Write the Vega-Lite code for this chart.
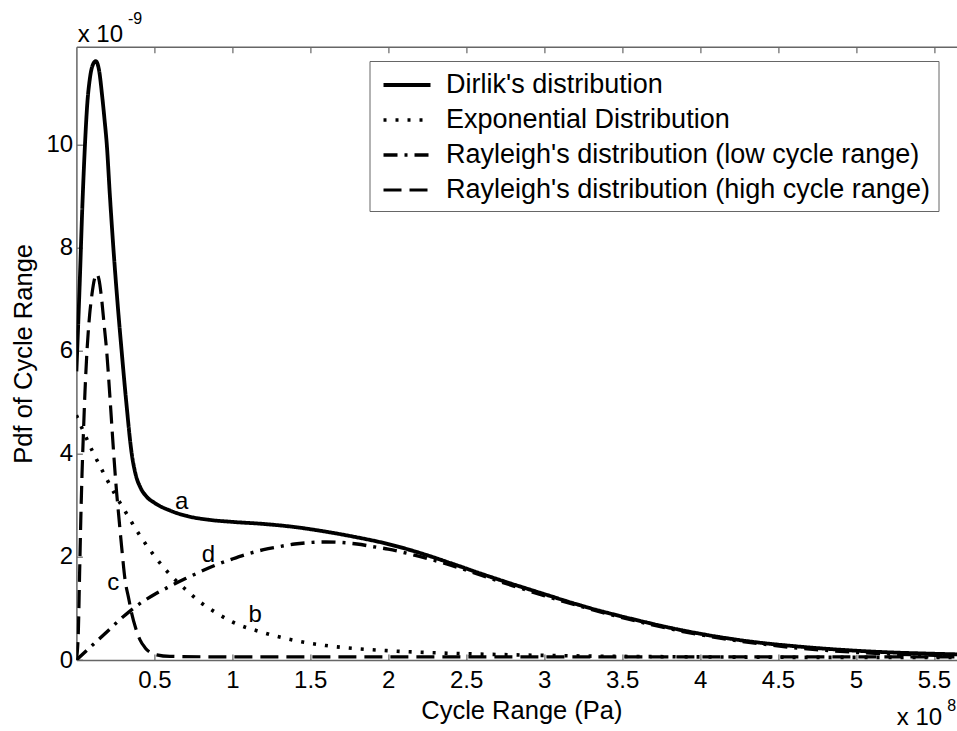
{
  "$schema": "https://vega.github.io/schema/vega-lite/v6.json",
  "width": 880.6,
  "height": 613.3,
  "autosize": {"type": "none"},
  "padding": {"left": 76.4, "top": 46.7, "right": 0, "bottom": 71},
  "background": "white",
  "config": {"view": {"stroke": null}, "font": "Liberation Sans"},
  "datasets": {
    "curves": [
      {"series": "Dirlik's distribution", "x": 0, "y": 5.6},
      {"series": "Dirlik's distribution", "x": 0.02, "y": 7.2},
      {"series": "Dirlik's distribution", "x": 0.04, "y": 8.95},
      {"series": "Dirlik's distribution", "x": 0.055, "y": 10.0},
      {"series": "Dirlik's distribution", "x": 0.07, "y": 10.8},
      {"series": "Dirlik's distribution", "x": 0.085, "y": 11.25},
      {"series": "Dirlik's distribution", "x": 0.1, "y": 11.5},
      {"series": "Dirlik's distribution", "x": 0.124, "y": 11.62},
      {"series": "Dirlik's distribution", "x": 0.145, "y": 11.45},
      {"series": "Dirlik's distribution", "x": 0.165, "y": 10.95},
      {"series": "Dirlik's distribution", "x": 0.18, "y": 10.5},
      {"series": "Dirlik's distribution", "x": 0.195, "y": 10.0},
      {"series": "Dirlik's distribution", "x": 0.215, "y": 9.0},
      {"series": "Dirlik's distribution", "x": 0.237, "y": 8.0},
      {"series": "Dirlik's distribution", "x": 0.262, "y": 7.0},
      {"series": "Dirlik's distribution", "x": 0.29, "y": 6.0},
      {"series": "Dirlik's distribution", "x": 0.32, "y": 5.0},
      {"series": "Dirlik's distribution", "x": 0.355, "y": 4.0},
      {"series": "Dirlik's distribution", "x": 0.38, "y": 3.6},
      {"series": "Dirlik's distribution", "x": 0.41, "y": 3.35},
      {"series": "Dirlik's distribution", "x": 0.45, "y": 3.17},
      {"series": "Dirlik's distribution", "x": 0.5, "y": 3.05},
      {"series": "Dirlik's distribution", "x": 0.6, "y": 2.9},
      {"series": "Dirlik's distribution", "x": 0.7, "y": 2.8},
      {"series": "Dirlik's distribution", "x": 0.85, "y": 2.72},
      {"series": "Dirlik's distribution", "x": 1.0, "y": 2.68},
      {"series": "Dirlik's distribution", "x": 1.2, "y": 2.64},
      {"series": "Dirlik's distribution", "x": 1.4, "y": 2.58},
      {"series": "Dirlik's distribution", "x": 1.6, "y": 2.49},
      {"series": "Dirlik's distribution", "x": 1.8, "y": 2.38},
      {"series": "Dirlik's distribution", "x": 2.0, "y": 2.25},
      {"series": "Dirlik's distribution", "x": 2.2, "y": 2.08},
      {"series": "Dirlik's distribution", "x": 2.4, "y": 1.88},
      {"series": "Dirlik's distribution", "x": 2.6, "y": 1.67},
      {"series": "Dirlik's distribution", "x": 2.8, "y": 1.47},
      {"series": "Dirlik's distribution", "x": 3.0, "y": 1.28},
      {"series": "Dirlik's distribution", "x": 3.2, "y": 1.09},
      {"series": "Dirlik's distribution", "x": 3.4, "y": 0.92},
      {"series": "Dirlik's distribution", "x": 3.6, "y": 0.77},
      {"series": "Dirlik's distribution", "x": 3.8, "y": 0.63},
      {"series": "Dirlik's distribution", "x": 4.0, "y": 0.51},
      {"series": "Dirlik's distribution", "x": 4.2, "y": 0.41},
      {"series": "Dirlik's distribution", "x": 4.4, "y": 0.33},
      {"series": "Dirlik's distribution", "x": 4.6, "y": 0.27},
      {"series": "Dirlik's distribution", "x": 4.8, "y": 0.22},
      {"series": "Dirlik's distribution", "x": 5.0, "y": 0.18},
      {"series": "Dirlik's distribution", "x": 5.2, "y": 0.15},
      {"series": "Dirlik's distribution", "x": 5.4, "y": 0.13},
      {"series": "Dirlik's distribution", "x": 5.65, "y": 0.11},

      {"series": "Exponential Distribution", "x": 0, "y": 4.75},
      {"series": "Exponential Distribution", "x": 0.05, "y": 4.4},
      {"series": "Exponential Distribution", "x": 0.1, "y": 4.07},
      {"series": "Exponential Distribution", "x": 0.15, "y": 3.77},
      {"series": "Exponential Distribution", "x": 0.2, "y": 3.48},
      {"series": "Exponential Distribution", "x": 0.25, "y": 3.2},
      {"series": "Exponential Distribution", "x": 0.3, "y": 2.95},
      {"series": "Exponential Distribution", "x": 0.4, "y": 2.45},
      {"series": "Exponential Distribution", "x": 0.5, "y": 2.02},
      {"series": "Exponential Distribution", "x": 0.6, "y": 1.66},
      {"series": "Exponential Distribution", "x": 0.7, "y": 1.37},
      {"series": "Exponential Distribution", "x": 0.8, "y": 1.11},
      {"series": "Exponential Distribution", "x": 0.9, "y": 0.91},
      {"series": "Exponential Distribution", "x": 1.0, "y": 0.74},
      {"series": "Exponential Distribution", "x": 1.2, "y": 0.53},
      {"series": "Exponential Distribution", "x": 1.4, "y": 0.38},
      {"series": "Exponential Distribution", "x": 1.6, "y": 0.28},
      {"series": "Exponential Distribution", "x": 1.8, "y": 0.22},
      {"series": "Exponential Distribution", "x": 2.0, "y": 0.18},
      {"series": "Exponential Distribution", "x": 2.4, "y": 0.13},
      {"series": "Exponential Distribution", "x": 2.8, "y": 0.1},
      {"series": "Exponential Distribution", "x": 3.2, "y": 0.08},
      {"series": "Exponential Distribution", "x": 4.0, "y": 0.06},
      {"series": "Exponential Distribution", "x": 5.0, "y": 0.05},
      {"series": "Exponential Distribution", "x": 5.65, "y": 0.05},

      {"series": "Rayleigh's distribution (low cycle range)", "x": 0, "y": 0},
      {"series": "Rayleigh's distribution (low cycle range)", "x": 0.1, "y": 0.28},
      {"series": "Rayleigh's distribution (low cycle range)", "x": 0.2, "y": 0.56},
      {"series": "Rayleigh's distribution (low cycle range)", "x": 0.3, "y": 0.84},
      {"series": "Rayleigh's distribution (low cycle range)", "x": 0.4, "y": 1.08},
      {"series": "Rayleigh's distribution (low cycle range)", "x": 0.5, "y": 1.27},
      {"series": "Rayleigh's distribution (low cycle range)", "x": 0.6, "y": 1.43},
      {"series": "Rayleigh's distribution (low cycle range)", "x": 0.7, "y": 1.58},
      {"series": "Rayleigh's distribution (low cycle range)", "x": 0.8, "y": 1.72},
      {"series": "Rayleigh's distribution (low cycle range)", "x": 0.9, "y": 1.85},
      {"series": "Rayleigh's distribution (low cycle range)", "x": 1.0, "y": 1.96},
      {"series": "Rayleigh's distribution (low cycle range)", "x": 1.1, "y": 2.06},
      {"series": "Rayleigh's distribution (low cycle range)", "x": 1.2, "y": 2.14},
      {"series": "Rayleigh's distribution (low cycle range)", "x": 1.3, "y": 2.2},
      {"series": "Rayleigh's distribution (low cycle range)", "x": 1.4, "y": 2.25},
      {"series": "Rayleigh's distribution (low cycle range)", "x": 1.5, "y": 2.28},
      {"series": "Rayleigh's distribution (low cycle range)", "x": 1.6, "y": 2.29},
      {"series": "Rayleigh's distribution (low cycle range)", "x": 1.7, "y": 2.28},
      {"series": "Rayleigh's distribution (low cycle range)", "x": 1.8, "y": 2.25},
      {"series": "Rayleigh's distribution (low cycle range)", "x": 1.9, "y": 2.2},
      {"series": "Rayleigh's distribution (low cycle range)", "x": 2.0, "y": 2.15},
      {"series": "Rayleigh's distribution (low cycle range)", "x": 2.2, "y": 2.01},
      {"series": "Rayleigh's distribution (low cycle range)", "x": 2.4, "y": 1.84},
      {"series": "Rayleigh's distribution (low cycle range)", "x": 2.6, "y": 1.64},
      {"series": "Rayleigh's distribution (low cycle range)", "x": 2.8, "y": 1.44},
      {"series": "Rayleigh's distribution (low cycle range)", "x": 3.0, "y": 1.25},
      {"series": "Rayleigh's distribution (low cycle range)", "x": 3.2, "y": 1.07},
      {"series": "Rayleigh's distribution (low cycle range)", "x": 3.4, "y": 0.9},
      {"series": "Rayleigh's distribution (low cycle range)", "x": 3.6, "y": 0.75},
      {"series": "Rayleigh's distribution (low cycle range)", "x": 3.8, "y": 0.61},
      {"series": "Rayleigh's distribution (low cycle range)", "x": 4.0, "y": 0.49},
      {"series": "Rayleigh's distribution (low cycle range)", "x": 4.2, "y": 0.39},
      {"series": "Rayleigh's distribution (low cycle range)", "x": 4.4, "y": 0.31},
      {"series": "Rayleigh's distribution (low cycle range)", "x": 4.6, "y": 0.24},
      {"series": "Rayleigh's distribution (low cycle range)", "x": 4.8, "y": 0.19},
      {"series": "Rayleigh's distribution (low cycle range)", "x": 5.0, "y": 0.15},
      {"series": "Rayleigh's distribution (low cycle range)", "x": 5.2, "y": 0.12},
      {"series": "Rayleigh's distribution (low cycle range)", "x": 5.4, "y": 0.1},
      {"series": "Rayleigh's distribution (low cycle range)", "x": 5.65, "y": 0.08},

      {"series": "Rayleigh's distribution (high cycle range)", "x": 0, "y": 0},
      {"series": "Rayleigh's distribution (high cycle range)", "x": 0.012, "y": 0.5},
      {"series": "Rayleigh's distribution (high cycle range)", "x": 0.02, "y": 1.6},
      {"series": "Rayleigh's distribution (high cycle range)", "x": 0.028, "y": 2.7},
      {"series": "Rayleigh's distribution (high cycle range)", "x": 0.036, "y": 3.6},
      {"series": "Rayleigh's distribution (high cycle range)", "x": 0.045, "y": 4.4},
      {"series": "Rayleigh's distribution (high cycle range)", "x": 0.055, "y": 5.2},
      {"series": "Rayleigh's distribution (high cycle range)", "x": 0.068, "y": 6.0},
      {"series": "Rayleigh's distribution (high cycle range)", "x": 0.085, "y": 6.7},
      {"series": "Rayleigh's distribution (high cycle range)", "x": 0.1, "y": 7.1},
      {"series": "Rayleigh's distribution (high cycle range)", "x": 0.115, "y": 7.38},
      {"series": "Rayleigh's distribution (high cycle range)", "x": 0.13, "y": 7.49},
      {"series": "Rayleigh's distribution (high cycle range)", "x": 0.145, "y": 7.38},
      {"series": "Rayleigh's distribution (high cycle range)", "x": 0.162, "y": 7.0},
      {"series": "Rayleigh's distribution (high cycle range)", "x": 0.178, "y": 6.5},
      {"series": "Rayleigh's distribution (high cycle range)", "x": 0.194, "y": 6.0},
      {"series": "Rayleigh's distribution (high cycle range)", "x": 0.216, "y": 5.06},
      {"series": "Rayleigh's distribution (high cycle range)", "x": 0.237, "y": 4.1},
      {"series": "Rayleigh's distribution (high cycle range)", "x": 0.258, "y": 3.25},
      {"series": "Rayleigh's distribution (high cycle range)", "x": 0.27, "y": 2.85},
      {"series": "Rayleigh's distribution (high cycle range)", "x": 0.29, "y": 2.2},
      {"series": "Rayleigh's distribution (high cycle range)", "x": 0.312, "y": 1.56},
      {"series": "Rayleigh's distribution (high cycle range)", "x": 0.335, "y": 1.2},
      {"series": "Rayleigh's distribution (high cycle range)", "x": 0.355, "y": 0.9},
      {"series": "Rayleigh's distribution (high cycle range)", "x": 0.38, "y": 0.62},
      {"series": "Rayleigh's distribution (high cycle range)", "x": 0.408, "y": 0.39},
      {"series": "Rayleigh's distribution (high cycle range)", "x": 0.44, "y": 0.24},
      {"series": "Rayleigh's distribution (high cycle range)", "x": 0.472, "y": 0.15},
      {"series": "Rayleigh's distribution (high cycle range)", "x": 0.515, "y": 0.1},
      {"series": "Rayleigh's distribution (high cycle range)", "x": 0.6, "y": 0.07},
      {"series": "Rayleigh's distribution (high cycle range)", "x": 1.0, "y": 0.06},
      {"series": "Rayleigh's distribution (high cycle range)", "x": 5.65, "y": 0.06}
    ],
    "curveLabels": [
      {"label": "a", "x": 0.675, "y": 3.07},
      {"label": "b", "x": 1.146, "y": 0.873},
      {"label": "c", "x": 0.237, "y": 1.49},
      {"label": "d", "x": 0.846, "y": 2.04}
    ],
    "bases": [
      {"label": "x 10", "x": 0.008, "y": 12.0},
      {"label": "x 10", "x": 5.262, "y": -1.27}
    ],
    "sups": [
      {"label": "-9", "x": 0.331, "y": 12.35},
      {"label": "8", "x": 5.585, "y": -0.99}
    ]
  },
  "layer": [
    {
      "data": {"name": "curves"},
      "mark": {"type": "line", "interpolate": "monotone", "color": "black", "clip": true},
      "encoding": {
        "x": {
          "field": "x", "type": "quantitative",
          "scale": {"domain": [0, 5.648], "nice": false, "zero": false},
          "axis": {
            "orient": "bottom", "values": [0.5, 1, 1.5, 2, 2.5, 3, 3.5, 4, 4.5, 5, 5.5], "format": "~g",
            "grid": false, "labelFlush": false, "labelOverlap": false,
            "tickSize": -6, "tickWidth": 1.2, "tickColor": "#666", "domainColor": "#666", "domainWidth": 1.5,
            "labelFontSize": 24, "labelColor": "black", "labelPadding": 14, "labelFont": "Liberation Sans",
            "title": "Cycle Range (Pa)", "titleFontSize": 25.5, "titleFontWeight": "normal", "titleColor": "black",
            "titleFont": "Liberation Sans", "titlePadding": 6, "titleX": 445
          }
        },
        "y": {
          "field": "y", "type": "quantitative",
          "scale": {"domain": [0, 11.9], "nice": false, "zero": false},
          "axis": {
            "orient": "left", "values": [0, 2, 4, 6, 8, 10], "format": "d",
            "grid": false, "labelFlush": false, "labelOverlap": false,
            "tickSize": -6, "tickWidth": 1.2, "tickColor": "#666", "domainColor": "#666", "domainWidth": 1.5,
            "labelFontSize": 24, "labelColor": "black", "labelPadding": 9.7, "labelFont": "Liberation Sans",
            "title": "Pdf of Cycle Range", "titleFontSize": 25.5, "titleFontWeight": "normal", "titleColor": "black",
            "titleFont": "Liberation Sans", "titlePadding": 10
          }
        },
        "strokeDash": {
          "field": "series", "type": "nominal",
          "scale": {
            "domain": ["Dirlik's distribution", "Exponential Distribution", "Rayleigh's distribution (low cycle range)", "Rayleigh's distribution (high cycle range)"],
            "range": [[1, 0], [3, 9], [14, 7, 3, 7], [18, 8]]
          },
          "legend": {
            "title": null, "orient": "none", "legendX": 293.1, "legendY": 14.3,
            "symbolType": "M-0.714,0H2.643", "symbolSize": 784, "symbolStrokeWidth": 3,
            "symbolStrokeColor": "black", "symbolFillColor": "transparent",
            "labelFontSize": 27, "labelFont": "Liberation Sans", "labelColor": "black", "labelLimit": 800,
            "labelOffset": 36.5, "rowPadding": 6, "padding": 8,
            "strokeColor": "#666", "fillColor": "white"
          }
        },
        "strokeWidth": {
          "field": "series", "type": "nominal",
          "scale": {
            "domain": ["Dirlik's distribution", "Exponential Distribution", "Rayleigh's distribution (low cycle range)", "Rayleigh's distribution (high cycle range)"],
            "range": [3.8, 3.2, 3.2, 3.2]
          },
          "legend": null
        }
      }
    },
    {
      "data": {"name": "curveLabels"},
      "mark": {"type": "text", "font": "Liberation Sans", "fontSize": 24, "color": "black", "align": "center", "baseline": "middle"},
      "encoding": {
        "x": {
          "field": "x", "type": "quantitative",
          "scale": {"domain": [0, 5.648], "nice": false, "zero": false},
          "axis": {
            "orient": "top", "values": [0.5, 1, 1.5, 2, 2.5, 3, 3.5, 4, 4.5, 5, 5.5],
            "labels": false, "title": null, "grid": false,
            "tickSize": -6, "tickWidth": 1.2, "tickColor": "#666", "domainColor": "#666", "domainWidth": 1.5
          }
        },
        "y": {"field": "y", "type": "quantitative", "scale": {"domain": [0, 11.9], "nice": false, "zero": false}, "axis": null},
        "text": {"field": "label"}
      }
    },
    {
      "data": {"name": "bases"},
      "mark": {"type": "text", "font": "Liberation Sans", "fontSize": 24, "color": "black", "align": "left", "baseline": "alphabetic"},
      "encoding": {
        "x": {"field": "x", "type": "quantitative", "scale": {"domain": [0, 5.648], "nice": false, "zero": false}, "axis": null},
        "y": {"field": "y", "type": "quantitative", "scale": {"domain": [0, 11.9], "nice": false, "zero": false}, "axis": null},
        "text": {"field": "label"}
      }
    },
    {
      "data": {"name": "sups"},
      "mark": {"type": "text", "font": "Liberation Sans", "fontSize": 16, "color": "black", "align": "left", "baseline": "alphabetic"},
      "encoding": {
        "x": {"field": "x", "type": "quantitative", "scale": {"domain": [0, 5.648], "nice": false, "zero": false}, "axis": null},
        "y": {"field": "y", "type": "quantitative", "scale": {"domain": [0, 11.9], "nice": false, "zero": false}, "axis": null},
        "text": {"field": "label"}
      }
    }
  ],
  "resolve": {"axis": {"x": "independent", "y": "independent"}}
}
